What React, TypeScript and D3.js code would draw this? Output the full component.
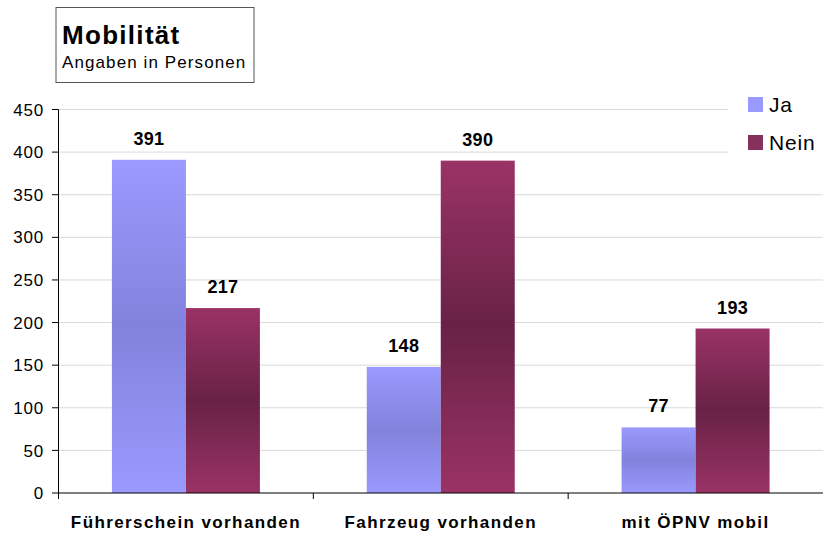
import React from "react";
import * as d3 from "d3";

const categories = ["Führerschein vorhanden", "Fahrzeug vorhanden", "mit ÖPNV mobil"];
const seriesNames = ["Ja", "Nein"];
const jaValues = [391, 148, 77];
const neinValues = [217, 390, 193];
const yTicks = [0, 50, 100, 150, 200, 250, 300, 350, 400, 450];

const W = 823, H = 534;
const left = 58.5, right = 823, top = 109.5, bottom = 493;
const font = "'Liberation Sans', Arial, sans-serif";

export default function App() {
  const x = d3.scaleBand<string>().domain(categories).range([left, right]).paddingInner(0).paddingOuter(0);
  const y = d3.scaleLinear().domain([0, 450]).range([bottom, top]);
  const barW = 74;
  const series = [
    { name: seriesNames[0], values: jaValues, grad: "gJa", swatch: "#9999ff" },
    { name: seriesNames[1], values: neinValues, grad: "gNein", swatch: "#86305c" },
  ];
  return (
    <svg width={W} height={H} style={{ position: "absolute", left: 0, top: 0, fontFamily: font }}>
      <defs>
        <linearGradient id="gJa" x1="0" y1="0" x2="0" y2="1">
          <stop offset="0" stopColor="#9a9aff" />
          <stop offset="0.5" stopColor="#8282dc" />
          <stop offset="1" stopColor="#9a9aff" />
        </linearGradient>
        <linearGradient id="gNein" x1="0" y1="0" x2="0" y2="1">
          <stop offset="0" stopColor="#9a3366" />
          <stop offset="0.5" stopColor="#682245" />
          <stop offset="1" stopColor="#9a3366" />
        </linearGradient>
      </defs>
      <rect x={0} y={0} width={W} height={H} fill="#fff" />
      {yTicks.map((t) => (
        <g key={t}>
          {t > 0 && <line x1={left} x2={right} y1={y(t)} y2={y(t)} stroke="#d9d9d9" strokeWidth={1} />}
          <line x1={52} x2={left} y1={y(t)} y2={y(t)} stroke="#000" strokeWidth={1} />
          <text x={44} y={y(t)} dy="0.36em" textAnchor="end" fontSize={17} letterSpacing={0.8} fill="#000">{t}</text>
        </g>
      ))}
      {categories.map((c, i) =>
        series.map((s, j) => {
          const cx = (x(c) as number) + x.bandwidth() / 2;
          const bx = cx - barW + j * barW;
          const v = s.values[i];
          return (
            <g key={c + s.name}>
              <rect x={bx} y={y(v)} width={barW} height={bottom - y(v)} fill={`url(#${s.grad})`} />
              <text x={bx + barW / 2} y={y(v) - 15} textAnchor="middle" fontSize={18} fontWeight="bold" letterSpacing={0.3} fill="#000">{v}</text>
            </g>
          );
        })
      )}
      <line x1={left} x2={right} y1={bottom} y2={bottom} stroke="#000" strokeWidth={1} />
      <line x1={left} x2={left} y1={top} y2={bottom} stroke="#000" strokeWidth={1} />
      {categories.map((c, i) => (
        <g key={c}>
          <line x1={x(c) as number} x2={x(c) as number} y1={bottom} y2={bottom + 6} stroke="#000" />
          <text x={(x(c) as number) + x.bandwidth() / 2} y={528} textAnchor="middle" fontSize={17} fontWeight="bold" letterSpacing={1.4} fill="#000">{c}</text>
        </g>
      ))}
      <rect x={728} y={86} width={95} height={80} fill="#fff" />
      {series.map((s, j) => (
        <g key={s.name}>
          <rect x={748} y={97 + j * 38} width={15} height={15} fill={s.swatch} />
          <text x={769} y={112 + j * 38} fontSize={21} letterSpacing={0.8} fill="#000">{s.name}</text>
        </g>
      ))}
      <rect x={56} y={7.5} width={198} height={75} fill="#fff" stroke="#555" strokeWidth={1} />
      <text x={62} y={44} fontSize={26} fontWeight="bold" letterSpacing={1.3} fill="#000">Mobilität</text>
      <text x={62} y={68} fontSize={17} letterSpacing={1.1} fill="#000">Angaben in Personen</text>
    </svg>
  );
}
